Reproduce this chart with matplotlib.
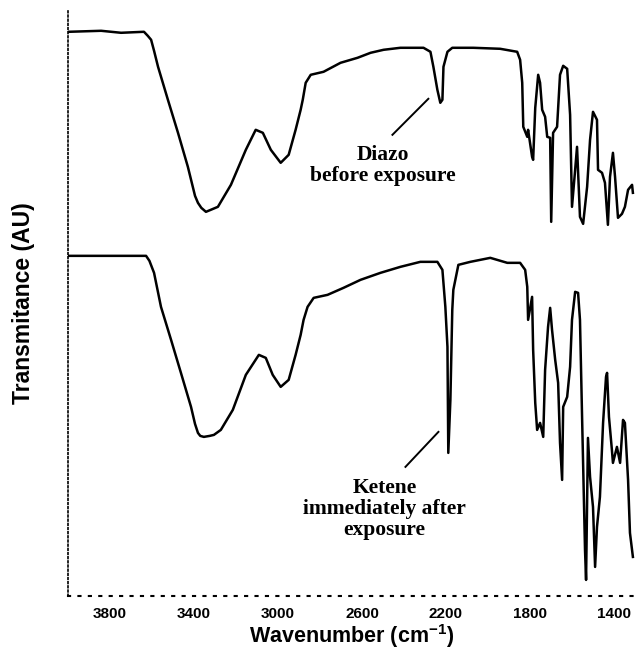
import numpy as np
import matplotlib
matplotlib.use("Agg")
import matplotlib.pyplot as plt

plt.rcParams["mathtext.fontset"] = "custom"
plt.rcParams["mathtext.rm"] = "Liberation Sans:bold"
plt.rcParams["mathtext.bf"] = "Liberation Sans:bold"

# IR spectra, wavenumber (cm-1) vs transmittance in arbitrary units (shared offset frame)
diazo_wn = [3995, 3842, 3747, 3638, 3620, 3604, 3590, 3571, 3524, 3476, 3429, 3395,
            3381, 3365, 3343, 3320, 3286, 3224, 3153, 3106, 3072, 3034, 2987, 2949,
            2916, 2892, 2882, 2868, 2844, 2783, 2702, 2621, 2559, 2497, 2417, 2307,
            2274, 2260, 2241, 2227, 2217, 2212, 2193, 2170, 2070, 1942, 1861, 1847,
            1837, 1832, 1813, 1809, 1790, 1785, 1775, 1761, 1752, 1742, 1728, 1718,
            1704, 1699, 1690, 1671, 1657, 1642, 1623, 1609, 1600, 1585, 1576, 1562,
            1547, 1528, 1514, 1500, 1481, 1476, 1457, 1443, 1429, 1419, 1405, 1395,
            1381, 1362, 1348, 1333, 1314, 1310]
diazo_au = [564, 565, 563, 564, 560, 556, 545, 529, 496, 463, 429, 400,
            393, 388, 384, 386, 389, 411, 446, 466, 463, 446, 433, 441,
            466, 486, 496, 513, 521, 524, 533, 538, 543, 546, 548, 548,
            544, 529, 506, 493, 496, 529, 544, 548, 548, 547, 544, 536,
            513, 469, 459, 466, 439, 436, 488, 521, 513, 486, 479, 459,
            458, 374, 463, 469, 521, 530, 527, 481, 389, 426, 449, 379,
            372, 409, 456, 484, 476, 426, 423, 413, 371, 419, 443, 419,
            378, 382, 389, 406, 411, 403]

ketene_wn = [3995, 3842, 3628, 3612, 3590, 3557, 3509, 3462, 3414, 3395, 3381, 3370,
             3353, 3325, 3305, 3272, 3215, 3153, 3091, 3058, 3025, 2987, 2949, 2916,
             2892, 2878, 2859, 2830, 2764, 2688, 2607, 2512, 2417, 2322, 2241, 2217,
             2203, 2193, 2189, 2179, 2170, 2165, 2141, 2084, 1989, 1908, 1847, 1823,
             1813, 1809, 1790, 1785, 1775, 1766, 1752, 1737, 1728, 1714, 1704, 1695,
             1680, 1666, 1657, 1647, 1642, 1623, 1609, 1600, 1585, 1571, 1562, 1552,
             1538, 1533, 1524, 1514, 1500, 1490, 1481, 1467, 1452, 1438, 1433, 1424,
             1410, 1405, 1386, 1371, 1357, 1348, 1333, 1324, 1310]
ketene_au = [340, 340, 340, 335, 323, 289, 256, 223, 189, 172, 163, 160,
             159, 160, 161, 166, 186, 221, 241, 238, 221, 209, 216, 241,
             261, 276, 289, 298, 301, 308, 316, 323, 329, 334, 334, 326,
             289, 249, 143, 196, 286, 306, 331, 334, 338, 333, 333, 326,
             309, 276, 299, 246, 193, 166, 173, 159, 226, 269, 288, 266,
             236, 213, 153, 116, 189, 199, 229, 276, 304, 303, 276, 179,
             46, 16, 158, 119, 89, 29, 69, 99, 173, 219, 223, 179,
             146, 133, 149, 133, 176, 173, 116, 63, 39]

xticks = [3800, 3400, 3000, 2600, 2200, 1800, 1400]

fig = plt.figure(figsize=(6.35, 6.52), dpi=100)
ax = fig.add_axes([0.107, 0.086, 0.893, 0.899])

ax.plot(diazo_wn, diazo_au, color="black", lw=1.8)
ax.plot(ketene_wn, ketene_au, color="black", lw=1.8)

ax.set_xlim(4000, 1300)
ax.set_ylim(0, 586)

# dotted axis lines, no top/right frame
for side in ("top", "right"):
    ax.spines[side].set_visible(False)
ax.spines["bottom"].set_linestyle((0, (1, 4)))
ax.spines["bottom"].set_linewidth(1.5)
ax.spines["left"].set_linestyle((0, (1, 1.5)))
ax.spines["left"].set_linewidth(1.2)

ax.set_xticks(xticks)
ax.set_xticklabels([str(t) for t in xticks], fontsize=11, fontweight="bold",
                   family="Liberation Sans")
ax.tick_params(axis="x", length=0, pad=8)
ax.set_yticks([])

ax.set_xlabel("Wavenumber (cm$^{-1}$)", fontsize=15.5, fontweight="bold",
              family="Liberation Sans", labelpad=1)
ax.set_ylabel("Transmitance (AU)", fontsize=16.5, fontweight="bold",
              family="Liberation Sans", labelpad=24)

# peak labels
serif = dict(family="Liberation Serif", fontweight="bold", fontsize=15.5,
             ha="center", va="center", linespacing=1.05)
ax.text(2502, 430, "Diazo\nbefore exposure", **serif)
ax.plot([2455, 2284], [461, 497], color="black", lw=1.4)
ax.text(2493, 87, "Ketene\nimmediately after\nexposure", **serif)
ax.plot([2393, 2236], [129, 164], color="black", lw=1.4)

fig.savefig("out.png", dpi=100)
